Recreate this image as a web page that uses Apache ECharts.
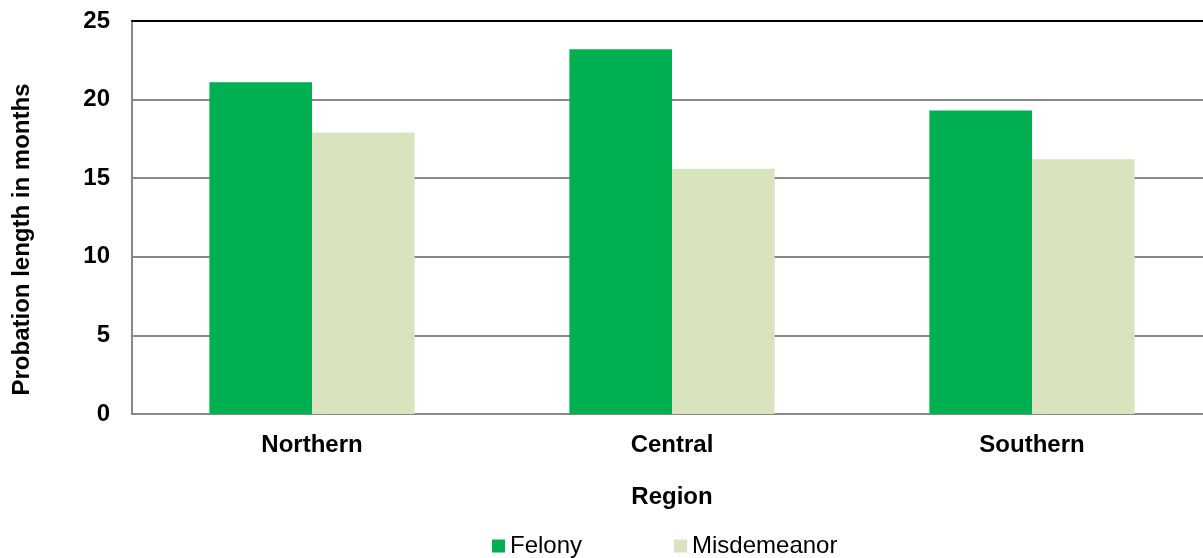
<!DOCTYPE html>
<html>
<head>
<meta charset="utf-8">
<script src="https://cdn.jsdelivr.net/npm/echarts@6/dist/echarts.min.js"></script>
<style>
html,body{margin:0;padding:0;background:#fff;overflow:hidden;}
#c{width:1212px;height:558px;}
</style>
</head>
<body>
<div id="c"></div>
<script>
const categories = ['Northern', 'Central', 'Southern'];
const felony = [21.1, 23.2, 19.3];
const misdemeanor = [17.9, 15.6, 16.2];
const yTicks = [0, 5, 10, 15, 20, 25];

const chart = echarts.init(document.getElementById('c'));
const font = '"Liberation Sans", Arial, sans-serif';
chart.setOption({
  animation: false,
  textStyle: { fontFamily: font },
  grid: { left: 132, right: 0, top: 21, bottom: 144, containLabel: false },
  legend: {
    data: ['Felony', 'Misdemeanor'],
    left: 492, top: 534, padding: 0,
    icon: 'rect', itemWidth: 13, itemHeight: 13, itemGap: 92,
    textStyle: { fontSize: 24, color: '#000', fontFamily: font }
  },
  xAxis: [{
    type: 'category', data: categories,
    axisLine: { lineStyle: { color: '#888', width: 2 } },
    axisTick: { show: false },
    axisLabel: { fontSize: 24, fontWeight: 'bold', color: '#000', margin: 19, fontFamily: font },
    name: 'Region', nameLocation: 'middle', nameGap: 71,
    nameTextStyle: { fontSize: 24, fontWeight: 'bold', color: '#000', fontFamily: font }
  }, {
    type: 'category', data: categories, position: 'top',
    axisLine: { lineStyle: { color: '#000', width: 2 } },
    axisTick: { show: false }, axisLabel: { show: false }
  }],
  yAxis: {
    type: 'value', min: 0, max: 25, interval: 5,
    axisLine: { show: true, lineStyle: { color: '#888', width: 2 } },
    axisTick: { show: false },
    splitLine: { lineStyle: { color: '#888', width: 2 } },
    axisLabel: { fontSize: 24, fontWeight: 'bold', color: '#000', margin: 22, fontFamily: font,
      formatter: v => yTicks.includes(v) ? String(v) : '' },
    name: 'Probation length in months', nameLocation: 'middle', nameGap: 98,
    nameTextStyle: { fontSize: 24, fontWeight: 'bold', color: '#000', fontFamily: font,
      padding: [0, 44, 0, 0] }
  },
  series: [{
    name: 'Felony', type: 'bar', data: felony,
    barGap: '0%', barCategoryGap: '43%',
    itemStyle: { color: '#00B050' }
  }, {
    name: 'Misdemeanor', type: 'bar', data: misdemeanor,
    itemStyle: { color: '#D7E4BD' }
  }]
});
</script>
</body>
</html>
